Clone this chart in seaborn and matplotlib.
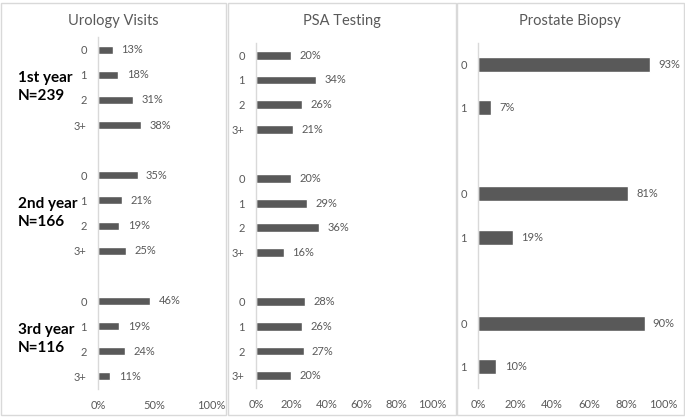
import pandas as pd
import matplotlib
matplotlib.use("Agg")
import matplotlib.pyplot as plt
import matplotlib.patches as mpatches
import seaborn as sns

years = ["1st year\nN=239", "2nd year\nN=166", "3rd year\nN=116"]
visit_cats = ["0", "1", "2", "3+"]
urology = [[13, 18, 31, 38], [35, 21, 19, 25], [46, 19, 24, 11]]
psa = [[20, 34, 26, 21], [20, 29, 36, 16], [28, 26, 27, 20]]
biopsy_cats = ["0", "1"]
biopsy = [[93, 7], [81, 19], [90, 10]]

W, H = 685, 417
BAR = "#595959"
TXT = "#595959"
GRID = "#d9d9d9"

sns.set_style("white")
plt.rcParams["font.family"] = ["Lato", "DejaVu Sans"]


def make_df(values, cats):
    rows = []
    for g, vals in enumerate(values):
        for c, v in enumerate(vals):
            rows.append({"slot": g * (len(cats) + 1) + c, "label": cats[c], "pct": v})
    return pd.DataFrame(rows)


def px_axes(fig, left, right, top, bottom):
    return fig.add_axes([left / W, 1 - bottom / H, (right - left) / W, (bottom - top) / H])


fig = plt.figure(figsize=(W / 100, H / 100), dpi=100)

# panel frames
for x0, x1 in [(1, 226), (228, 456), (457, 684)]:
    fig.add_artist(mpatches.Rectangle((x0 / W, 2 / H), (x1 - x0) / W, 412 / H,
                                      transform=fig.transFigure, fill=False,
                                      edgecolor=GRID, linewidth=1))

panels = [
    (urology, visit_cats, (98, 211, 37, 389), [0, 50, 100], "Urology Visits", 113, 0.32),
    (psa, visit_cats, (256, 432, 43, 388), [0, 20, 40, 60, 80, 100], "PSA Testing", 342, 0.36),
    (biopsy, biopsy_cats, (478, 663, 43, 388), [0, 20, 40, 60, 80, 100], "Prostate Biopsy", 570, 0.35),
]

for values, cats, box, xticks, title, tx, bw in panels:
    df = make_df(values, cats)
    ax = px_axes(fig, *box)
    sns.barplot(data=df, x="pct", y="slot", orient="h", native_scale=True,
                color=BAR, width=bw, saturation=1, ax=ax)
    nslots = len(values) * (len(cats) + 1) - 1
    ax.set_ylim(nslots - 0.5, -0.5)
    ax.set_xlim(0, 100)
    ax.set_yticks(df["slot"])
    ax.set_yticklabels(df["label"])
    ax.set_xticks(xticks)
    ax.set_xticklabels([f"{t}%" for t in xticks])
    ax.set_xlabel("")
    ax.set_ylabel("")
    ax.tick_params(length=0, labelsize=8, colors=TXT, pad=8)
    for s in ["top", "right", "bottom"]:
        ax.spines[s].set_visible(False)
    ax.spines["left"].set_color(GRID)
    ax.spines["left"].set_linewidth(1)
    for cont in ax.containers:
        ax.bar_label(cont, fmt="{:.0f}%", padding=6, fontsize=8, color=TXT)
    fig.text(tx / W, 1 - 21 / H, title, ha="center", va="center", fontsize=10.5, color=TXT)

for i, y in enumerate([87, 213, 339]):
    fig.text(18 / W, 1 - y / H, years[i], ha="left", va="center", fontsize=11,
             fontweight="bold", color="black", linespacing=1.3)

fig.savefig("out.png", dpi=100)
